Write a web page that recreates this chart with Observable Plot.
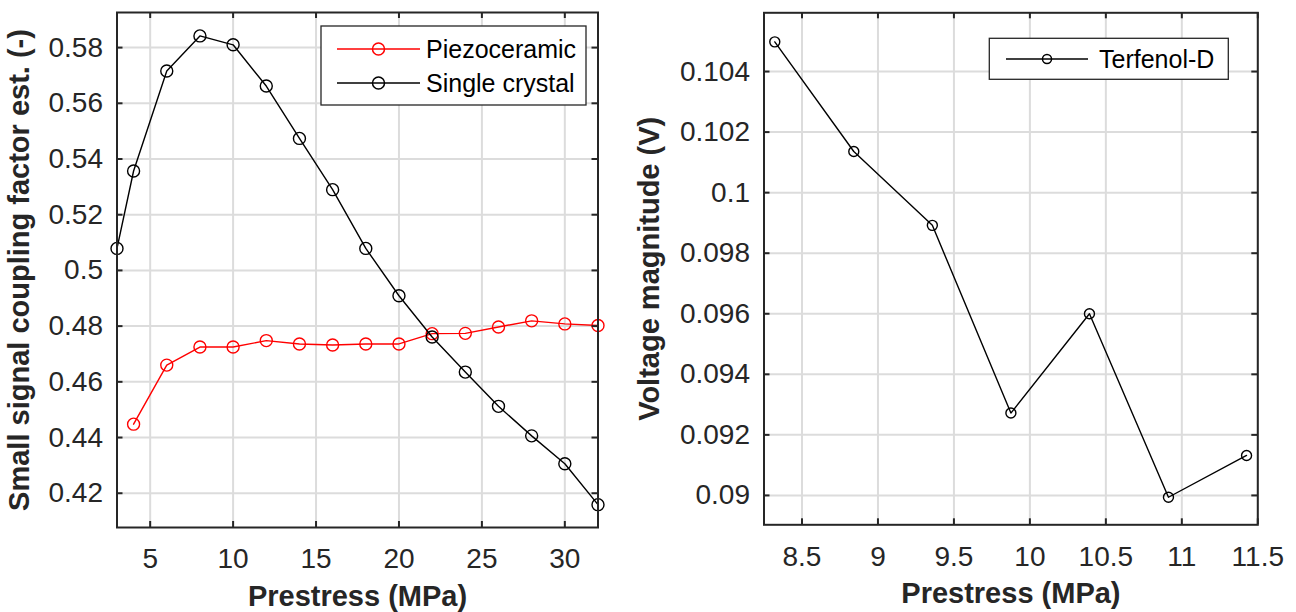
<!DOCTYPE html>
<html><head><meta charset="utf-8">
<script src="https://cdn.jsdelivr.net/npm/d3@7"></script>
<script src="https://cdn.jsdelivr.net/npm/@observablehq/plot@0.6"></script>
<style>
body{margin:0;background:#fff;}
#wrap{display:flex;width:1296px;height:612px;overflow:hidden;}
#wrap svg{display:block;}
</style></head><body><div id="wrap"></div>
<script>
// ---------- data ----------
const prestressSC = [3, 4, 6, 8, 10, 12, 14, 16, 18, 20, 22, 24, 26, 28, 30, 32];
const singleCrystal = [0.5079, 0.5357, 0.5716, 0.5842, 0.5810, 0.5662, 0.5474, 0.5290, 0.5079, 0.4909, 0.4761, 0.4635, 0.4512, 0.4406, 0.4306, 0.4159];
const prestressPZ = [4, 6, 8, 10, 12, 14, 16, 18, 20, 22, 24, 26, 28, 30, 32];
const piezoceramic = [0.4448, 0.4660, 0.4725, 0.4725, 0.4748, 0.4736, 0.4732, 0.4736, 0.4736, 0.4773, 0.4774, 0.4797, 0.4819, 0.4808, 0.4802];
const prestressTD = [8.321, 8.841, 9.358, 9.875, 10.392, 10.912, 11.426];
const terfenol = [0.10498, 0.10136, 0.09892, 0.09272, 0.09600, 0.08994, 0.09132];

const leftXTicks = [5, 10, 15, 20, 25, 30];
const leftYTicks = [0.42, 0.44, 0.46, 0.48, 0.5, 0.52, 0.54, 0.56, 0.58];
const rightXTicks = [8.5, 9, 9.5, 10, 10.5, 11, 11.5];
const rightYTicks = [0.09, 0.092, 0.094, 0.096, 0.098, 0.1, 0.102, 0.104];

const leftSeries = ["Piezoceramic", "Single crystal"];
const rightSeries = ["Terfenol-D"];
const xLabel = "Prestress (MPa)";
const leftYLabel = "Small signal coupling factor est. (-)";
const rightYLabel = "Voltage magnitude (V)";

// ---------- helpers ----------
const INK = "#262626";
const GRID = "#dcdcdc";
const FONT = "'Liberation Sans', Arial, Helvetica, sans-serif";

function legendMark(items, box) {
  return () => {
    const g = d3.create("svg:g");
    g.append("rect").attr("x", box.x).attr("y", box.y).attr("width", box.w).attr("height", box.h)
      .attr("fill", "#fff").attr("stroke", INK).attr("stroke-width", 1.3);
    items.forEach((it, i) => {
      const cy = box.row0 + i * box.rowStep;
      g.append("line").attr("x1", box.lx1).attr("x2", box.lx2).attr("y1", cy).attr("y2", cy)
        .attr("stroke", it.color).attr("stroke-width", 1.5);
      g.append("circle").attr("cx", (box.lx1 + box.lx2) / 2).attr("cy", cy).attr("r", it.r)
        .attr("fill", "none").attr("stroke", it.color).attr("stroke-width", 1.5);
      g.append("text").attr("x", box.tx).attr("y", cy).attr("dy", "0.36em")
        .attr("text-anchor", "start")
        .attr("font-size", 25).attr("fill", "#000").attr("font-family", FONT).text(it.label);
    });
    return g.node();
  };
}

function panel({width, height, margins, xDomain, yDomain, xTicks, yTicks, marks, yLabel, yLabelDx}) {
  const innerW = width - margins.left - margins.right;
  const innerH = height - margins.top - margins.bottom;
  return Plot.plot({
    width, height,
    marginLeft: margins.left, marginRight: margins.right,
    marginTop: margins.top, marginBottom: margins.bottom,
    x: {domain: xDomain},
    y: {domain: yDomain},
    style: {fontFamily: FONT, fontSize: "28px", color: INK, background: "#fff", overflow: "visible"},
    marks: [
      Plot.gridX(xTicks, {stroke: GRID, strokeOpacity: 1, strokeWidth: 2}),
      Plot.gridY(yTicks, {stroke: GRID, strokeOpacity: 1, strokeWidth: 2}),
      ...marks,
      Plot.tickX(xTicks, {x: d => d, insetTop: innerH - 6, stroke: INK, strokeWidth: 2}),
      Plot.tickX(xTicks, {x: d => d, insetBottom: innerH - 6, stroke: INK, strokeWidth: 2}),
      Plot.tickY(yTicks, {y: d => d, insetRight: innerW - 6, stroke: INK, strokeWidth: 2}),
      Plot.tickY(yTicks, {y: d => d, insetLeft: innerW - 6, stroke: INK, strokeWidth: 2}),
      Plot.frame({stroke: INK, strokeWidth: 2}),
      Plot.axisX(xTicks, {anchor: "bottom", tickSize: 0, tickPadding: 21, fontSize: 28, label: null, tickFormat: d => String(d)}),
      Plot.axisY(yTicks, {anchor: "left", tickSize: 0, tickPadding: 14, fontSize: 28, label: null, tickFormat: d => String(d)}),
      Plot.text([xLabel], {text: d => d, frameAnchor: "bottom", textAnchor: "middle", lineAnchor: "middle", dy: 69, fontSize: 29, fontWeight: "bold", fill: INK}),
      Plot.text([yLabel], {text: d => d, frameAnchor: "left", textAnchor: "middle", lineAnchor: "middle", rotate: -90, dx: yLabelDx, fontSize: 29, fontWeight: "bold", fill: INK})
    ]
  });
}

// ---------- left panel ----------
const scData = prestressSC.map((x, i) => ({x, y: singleCrystal[i]}));
const pzData = prestressPZ.map((x, i) => ({x, y: piezoceramic[i]}));
const leftMarks = [
  Plot.line(pzData, {x: "x", y: "y", stroke: "#ff0000", strokeWidth: 1.4}),
  Plot.dot(pzData, {x: "x", y: "y", r: 6, stroke: "#ff0000", fill: "none", strokeWidth: 1.4}),
  Plot.line(scData, {x: "x", y: "y", stroke: "#000", strokeWidth: 1.4}),
  Plot.dot(scData, {x: "x", y: "y", r: 6, stroke: "#000", fill: "none", strokeWidth: 1.4}),
  legendMark([
    {label: leftSeries[0], color: "#ff0000", r: 6},
    {label: leftSeries[1], color: "#000", r: 6}
  ], {x: 321, y: 26, w: 265, h: 79, row0: 49, rowStep: 34, lx1: 337, lx2: 420, tx: 426})
];
const left = panel({
  width: 640, height: 612,
  margins: {left: 116.5, right: 42.5, top: 12, bottom: 85},
  xDomain: [3, 32], yDomain: [0.4077, 0.5926],
  xTicks: leftXTicks, yTicks: leftYTicks, marks: leftMarks, yLabel: leftYLabel, yLabelDx: -97
});

// ---------- right panel ----------
const tdData = prestressTD.map((x, i) => ({x, y: terfenol[i]}));
const rightMarks = [
  Plot.line(tdData, {x: "x", y: "y", stroke: "#000", strokeWidth: 1.4}),
  Plot.dot(tdData, {x: "x", y: "y", r: 5, stroke: "#000", fill: "none", strokeWidth: 1.4}),
  legendMark([
    {label: rightSeries[0], color: "#000", r: 4.5}
  ], {x: 349.3, y: 38.3, w: 239, h: 41, row0: 59, rowStep: 34, lx1: 366, lx2: 448, tx: 459})
];
const right = panel({
  width: 656, height: 612,
  margins: {left: 123.5, right: 38.7, top: 12.3, bottom: 87.7},
  xDomain: [8.25, 11.5], yDomain: [0.08903, 0.10594],
  xTicks: rightXTicks, yTicks: rightYTicks, marks: rightMarks, yLabel: rightYLabel, yLabelDx: -114
});

document.getElementById("wrap").append(left, right);
</script>
</body></html>
